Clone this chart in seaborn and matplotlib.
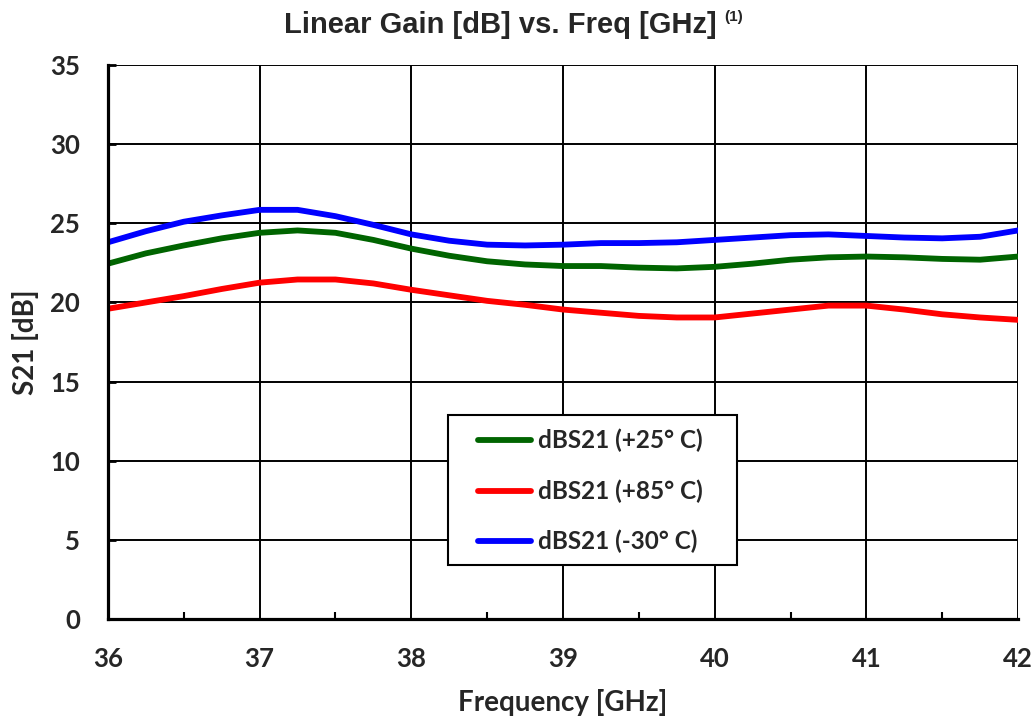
import numpy as np
import pandas as pd
import matplotlib
matplotlib.use("Agg")
import matplotlib.pyplot as plt
import seaborn as sns
from matplotlib.ticker import MultipleLocator
from matplotlib.patches import Rectangle

freq = [36.0, 36.25, 36.5, 36.75, 37.0, 37.25, 37.5, 37.75, 38.0, 38.25, 38.5, 38.75,
        39.0, 39.25, 39.5, 39.75, 40.0, 40.25, 40.5, 40.75, 41.0, 41.25, 41.5, 41.75, 42.0]
s21_p25 = [22.45, 23.1, 23.6, 24.05, 24.4, 24.55, 24.4, 23.95, 23.4, 22.95, 22.6, 22.4,
           22.3, 22.3, 22.2, 22.15, 22.25, 22.45, 22.7, 22.85, 22.9, 22.85, 22.75, 22.7, 22.9]
s21_p85 = [19.6, 20.0, 20.4, 20.85, 21.25, 21.45, 21.45, 21.2, 20.8, 20.45, 20.1, 19.85,
           19.55, 19.35, 19.15, 19.05, 19.05, 19.3, 19.55, 19.8, 19.8, 19.55, 19.25, 19.05, 18.9]
s21_m30 = [23.8, 24.5, 25.1, 25.5, 25.85, 25.85, 25.45, 24.9, 24.3, 23.9, 23.65, 23.6,
           23.65, 23.75, 23.75, 23.8, 23.95, 24.1, 24.25, 24.3, 24.2, 24.1, 24.05, 24.15, 24.55]
series_names = ["dBS21 (+25° C)", "dBS21 (+85° C)", "dBS21 (-30° C)"]
series_colors = ["#006400", "#ff0000", "#0000ff"]
x_ticks = [36, 37, 38, 39, 40, 41, 42]
y_ticks = [0, 5, 10, 15, 20, 25, 30, 35]

df = pd.DataFrame({
    "freq": freq * 3,
    "s21": s21_p25 + s21_p85 + s21_m30,
    "series": sum([[n] * len(freq) for n in series_names], []),
})

sns.set_style("white")
plt.rcParams["font.family"] = ["Lato", "DejaVu Sans"]

fig = plt.figure(figsize=(10.35, 7.21), dpi=100)
ax = fig.add_axes([0.1043, 0.1415, 0.8793, 0.7683])

sns.lineplot(data=df, x="freq", y="s21", hue="series", palette=series_colors,
             hue_order=series_names, linewidth=4.2, ax=ax, sort=True)

ax.set_xlim(36, 42)
ax.set_ylim(0, 35)
ax.set_xticks(x_ticks)
ax.set_yticks(y_ticks)
ax.xaxis.set_minor_locator(MultipleLocator(0.5))
ax.grid(True, which="major", color="black", linewidth=1.4)
ax.set_axisbelow(True)

for s in ["left", "bottom"]:
    ax.spines[s].set_color("black")
    ax.spines[s].set_linewidth(2.3)
for s in ["top", "right"]:
    ax.spines[s].set_visible(False)

ax.tick_params(axis="x", which="major", length=0, pad=20, labelsize=18.5)
ax.tick_params(axis="x", which="minor", direction="in", length=5, width=1.5, color="black", bottom=True)
ax.tick_params(axis="y", which="major", direction="in", length=6, width=2, color="black", pad=20, labelsize=18.5, left=True)
for lab in ax.get_xticklabels() + ax.get_yticklabels():
    lab.set_fontweight("bold")

ax.set_xlabel("Frequency [GHz]", fontsize=20, fontweight="bold", labelpad=13)
ax.set_ylabel("S21 [dB]", fontsize=20, fontweight="bold", labelpad=8)

title = fig.text(0.4836, 0.965, "Linear Gain [dB] vs. Freq [GHz]", ha="center", va="center",
                 fontsize=21, fontweight="bold", family="Liberation Sans")
fig.canvas.draw()
ax.annotate("(1)", xy=(1, 1), xycoords=title, xytext=(5, 1), textcoords="offset points",
            ha="left", va="top", fontsize=11, fontweight="bold", family="Liberation Sans",
            annotation_clip=False)

leg = ax.legend(loc="upper left", bbox_to_anchor=(0.4066, 0.343), frameon=False,
                prop={"weight": "bold", "size": 17.5}, handlelength=2.2, labelspacing=1.11,
                borderpad=0, borderaxespad=0, handletextpad=0.25)
for h in leg.get_lines():
    h.set_linewidth(4.2)
    h.set_solid_capstyle("round")
ax.add_patch(Rectangle((0.3736, 0.0975), 0.3176, 0.2708, transform=ax.transAxes,
                       facecolor="white", edgecolor="black", linewidth=1.5, zorder=4.5))
leg.set_zorder(5)

fig.savefig("out.png", dpi=100)
